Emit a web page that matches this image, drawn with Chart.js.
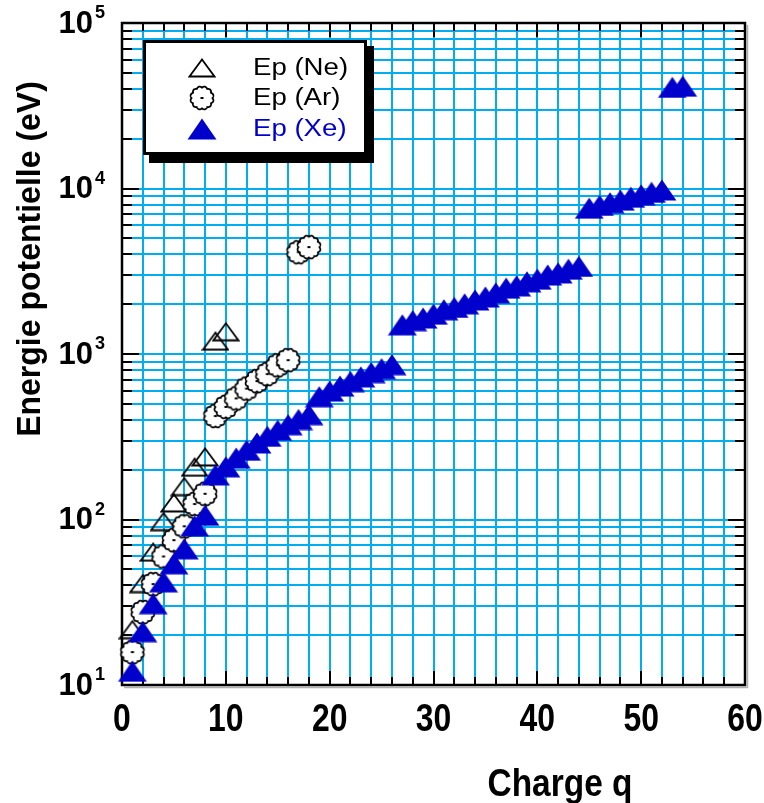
<!DOCTYPE html>
<html>
<head>
<meta charset="utf-8">
<script src="https://cdn.jsdelivr.net/npm/chart.js@4/dist/chart.umd.min.js"></script>
<style>
  html, body { margin: 0; padding: 0; background: #ffffff; }
  canvas { display: block; }
</style>
</head>
<body>
<canvas id="chart" width="764" height="803"></canvas>
<script>
// Ionisation potential (eV) versus ion charge q for Ne, Ar and Xe
const chargeNe = [1, 2, 3, 4, 5, 6, 7, 8, 9, 10];
const energyNe = [21.6, 41.0, 63.5, 97.1, 126, 158, 207, 239, 1196, 1362];

const chargeAr = [1, 2, 3, 4, 5, 6, 7, 8, 9, 10, 11, 12, 13, 14, 15, 16, 17, 18];
const energyAr = [15.8, 27.6, 40.7, 59.8, 75.0, 91.0, 124, 143, 422, 479, 539, 618, 686, 756, 855, 918, 4121, 4426];

const chargeXe = [1, 2, 3, 4, 5, 6, 7, 8, 9, 10, 11, 12, 13, 14, 15, 16, 17, 18,
                  19, 20, 21, 22, 23, 24, 25, 26, 27, 28, 29, 30, 31, 32, 33, 34, 35, 36,
                  37, 38, 39, 40, 41, 42, 43, 44, 45, 46, 47, 48, 49, 50, 51, 52, 53, 54];
const energyXe = [12.1, 21.0, 31.0, 42.0, 54.0, 66.5, 91.5, 106,
                  186, 208, 235, 262, 290, 318, 346, 374, 402, 430,
                  552, 597, 640, 682, 727, 772, 815, 862,
                  1500, 1590, 1650, 1740, 1850, 1910, 2010, 2120, 2210, 2340, 2500, 2580, 2730, 2830, 3000, 3090, 3250, 3380,
                  7600, 7900, 8200, 8500, 8850, 9150, 9480, 9800,
                  40800, 41500];

const seriesLabels = ['Ep (Ne)', 'Ep (Ar)', 'Ep (Xe)'];

// Axis ticks: x labels every 10, grid every 2; y labels at decades, grid at every 1..9 x 10^n
const xLabelTicks = [0, 10, 20, 30, 40, 50, 60];
const xGridTicks = [0, 2, 4, 6, 8, 10, 12, 14, 16, 18, 20, 22, 24, 26, 28, 30,
                    32, 34, 36, 38, 40, 42, 44, 46, 48, 50, 52, 54, 56, 58, 60];
const yDecadeTicks = [10, 100, 1000, 10000, 100000];
const yDecadeExponents = ['1', '2', '3', '4', '5'];
const yGridTicks = [10, 20, 30, 40, 50, 60, 70, 80, 90,
                    100, 200, 300, 400, 500, 600, 700, 800, 900,
                    1000, 2000, 3000, 4000, 5000, 6000, 7000, 8000, 9000,
                    10000, 20000, 30000, 40000, 50000, 60000, 70000, 80000, 90000,
                    100000];

const xTitle = 'Charge q';
const yTitle = 'Energie potentielle (eV)';

const GRID_CYAN = '#00aeef';
const XE_BLUE = '#0000cc';

function makeSprite(w, h, paint) {
  const c = document.createElement('canvas');
  c.width = w; c.height = h;
  paint(c.getContext('2d'), w, h);
  return c;
}

// open triangle
const neSprite = makeSprite(28, 20, (g) => {
  g.beginPath();
  g.moveTo(14, 1.5); g.lineTo(26.5, 18.5); g.lineTo(1.5, 18.5); g.closePath();
  g.lineWidth = 1.8; g.strokeStyle = '#000'; g.lineJoin = 'miter';
  g.stroke();
});

// white scalloped circle with a centre dot
const arSprite = makeSprite(28, 28, (g) => {
  const cx = 14, cy = 14;
  g.beginPath();
  for (let i = 0; i <= 240; i++) {
    const t = i / 240 * Math.PI * 2;
    const r = 10.4 + 1.3 * Math.abs(Math.sin(6 * t));
    const px = cx + r * Math.cos(t), py = cy + r * Math.sin(t);
    if (i === 0) g.moveTo(px, py); else g.lineTo(px, py);
  }
  g.closePath();
  g.fillStyle = '#fff'; g.fill();
  g.lineWidth = 1.8; g.strokeStyle = '#000'; g.stroke();
  g.fillStyle = '#000';
  g.fillRect(cx - 1.5, cy - 1, 3, 2);
});

// filled blue triangle
const xeSprite = makeSprite(30, 22, (g) => {
  g.beginPath();
  g.moveTo(15, 0.5); g.lineTo(29.5, 21.5); g.lineTo(0.5, 21.5); g.closePath();
  g.fillStyle = XE_BLUE; g.fill();
});

function toPoints(xs, ys) { return xs.map((x, i) => ({ x: x, y: ys[i] })); }

function drawCondensed(ctx, text, x, y, font, scaleX, align, color) {
  ctx.save();
  ctx.font = font;
  ctx.fillStyle = color || '#000';
  ctx.textBaseline = 'middle';
  const w = ctx.measureText(text).width * scaleX;
  let left = x;
  if (align === 'center') left = x - w / 2;
  else if (align === 'right') left = x - w;
  ctx.translate(left, y);
  ctx.scale(scaleX, 1);
  ctx.textAlign = 'left';
  ctx.fillText(text, 0, 0);
  ctx.restore();
  return w;
}

const framePlugin = {
  id: 'frameAndTicks',
  beforeDatasetsDraw(chart) {
    const { ctx, chartArea: a, scales: { x, y } } = chart;
    ctx.save();
    // faint shadow along right and bottom edges
    ctx.strokeStyle = '#b0b0b0';
    ctx.lineWidth = 1.5;
    ctx.beginPath();
    ctx.moveTo(a.right + 2.5, a.top + 2); ctx.lineTo(a.right + 2.5, a.bottom + 2.5);
    ctx.lineTo(a.left + 2, a.bottom + 2.5);
    ctx.stroke();

    ctx.strokeStyle = '#000';
    ctx.lineWidth = 2;
    ctx.beginPath();
    // inward ticks on bottom and top
    xGridTicks.forEach((v) => {
      const px = Math.round(x.getPixelForValue(v));
      const len = (v % 10 === 0) ? 14 : 8;
      ctx.moveTo(px, a.bottom); ctx.lineTo(px, a.bottom - len);
      ctx.moveTo(px, a.top); ctx.lineTo(px, a.top + len);
    });
    // inward ticks on left and right
    yGridTicks.forEach((v) => {
      const py = Math.round(y.getPixelForValue(v));
      const len = yDecadeTicks.includes(v) ? 17 : 10;
      ctx.moveTo(a.left, py); ctx.lineTo(a.left + len, py);
      ctx.moveTo(a.right, py); ctx.lineTo(a.right - len, py);
    });
    ctx.stroke();

    ctx.lineWidth = 2.5;
    ctx.strokeRect(a.left, a.top, a.right - a.left, a.bottom - a.top);
    ctx.restore();
  },
  afterDraw(chart) {
    const { ctx, scales: { x, y } } = chart;
    const F = '"Liberation Sans", Arial, sans-serif';

    // x tick labels
    xLabelTicks.forEach((v) => {
      drawCondensed(ctx, String(v), x.getPixelForValue(v), 721, 'bold 38px ' + F, 0.84, 'center');
    });

    // y tick labels: 10 with superscript exponent
    yDecadeTicks.forEach((v, i) => {
      const py = y.getPixelForValue(v);
      drawCondensed(ctx, '10', 93, py + 1, 'bold 31px ' + F, 1.0, 'right');
      drawCondensed(ctx, yDecadeExponents[i], 95, py - 10, 'bold 19px ' + F, 0.95, 'left');
    });

    // axis titles
    drawCondensed(ctx, xTitle, 560, 786, 'bold 38px ' + F, 0.88, 'center');
    ctx.save();
    ctx.translate(31, 259);
    ctx.rotate(-Math.PI / 2);
    drawCondensed(ctx, yTitle, 0, 0, 'bold 33px ' + F, 0.97, 'center');
    ctx.restore();

    // legend box with drop shadow
    const bx = 143, by = 40, bw = 224, bh = 115;
    ctx.save();
    ctx.fillStyle = '#000';
    ctx.fillRect(bx + 6, by + 6, bw + 1, bh + 2);
    ctx.fillStyle = '#fff';
    ctx.fillRect(bx, by, bw, bh);
    ctx.lineWidth = 3;
    ctx.strokeStyle = '#000';
    ctx.strokeRect(bx + 1.5, by + 1.5, bw - 3, bh - 3);
    ctx.restore();

    const sprites = [neSprite, arSprite, xeSprite];
    const rowY = [68, 98, 129];
    const colors = ['#000', '#000', XE_BLUE];
    sprites.forEach((s, i) => {
      ctx.drawImage(s, Math.round(202 - s.width / 2), Math.round(rowY[i] - s.height / 2));
      drawCondensed(ctx, seriesLabels[i], 253, rowY[i] + 1, '23px ' + F, 1.2, 'left', colors[i]);
    });
  }
};

const gridOpts = { color: GRID_CYAN, lineWidth: 2, drawTicks: false };

new Chart(document.getElementById('chart'), {
  type: 'scatter',
  data: {
    datasets: [
      { label: seriesLabels[2], data: toPoints(chargeXe, energyXe), pointStyle: xeSprite,
        pointRadius: 12, pointHoverRadius: 12, order: 1, clip: false },
      { label: seriesLabels[1], data: toPoints(chargeAr, energyAr), pointStyle: arSprite,
        pointRadius: 12, pointHoverRadius: 12, order: 2, clip: false },
      { label: seriesLabels[0], data: toPoints(chargeNe, energyNe), pointStyle: neSprite,
        pointRadius: 12, pointHoverRadius: 12, order: 3, clip: false }
    ]
  },
  options: {
    responsive: false,
    animation: false,
    devicePixelRatio: 1,
    events: [],
    layout: { padding: { left: 122, right: 19, top: 23, bottom: 118 } },
    plugins: { legend: { display: false }, tooltip: { enabled: false } },
    scales: {
      x: {
        type: 'linear', min: 0, max: 60,
        afterBuildTicks: (s) => { s.ticks = xGridTicks.map((v) => ({ value: v })); },
        ticks: { display: false },
        grid: gridOpts,
        border: { display: false }
      },
      y: {
        type: 'logarithmic', min: 10, max: 100000,
        afterBuildTicks: (s) => { s.ticks = yGridTicks.map((v) => ({ value: v })); },
        ticks: { display: false },
        grid: gridOpts,
        border: { display: false }
      }
    }
  },
  plugins: [framePlugin]
});
</script>
</body>
</html>
